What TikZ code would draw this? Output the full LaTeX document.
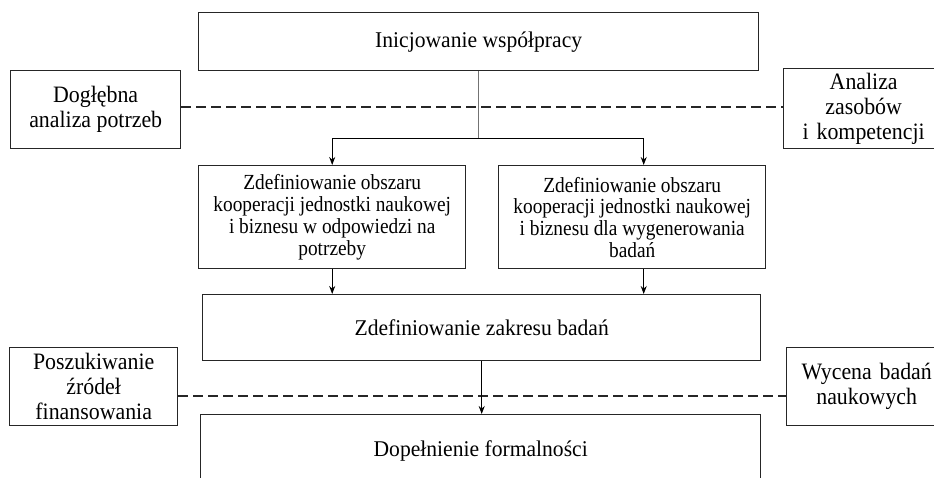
\documentclass[tikz,border=0pt]{standalone}
\usepackage{fontspec}
\setmainfont{Liberation Serif}
\newfontfamily\midfont[FakeStretch=0.9]{Liberation Serif}
\newfontfamily\sidefont[FakeStretch=0.93]{Liberation Serif}
\newfontfamily\bigfont[FakeStretch=0.96]{Liberation Serif}
\usetikzlibrary{arrows.meta}
\tikzset{
  box/.style={draw=black!85, line width=1.4pt, anchor=north west, inner sep=0pt, align=center, fill=white},
  bigtxt/.style={font=\bigfont\fontsize{22.5}{24}\selectfont},
  midtxt/.style={font=\midfont\fontsize{21.5}{21.7}\selectfont},
  sidetxt/.style={font=\sidefont\fontsize{23.5}{25}\selectfont},
  conn/.style={line width=1pt, black},
  arr/.style={conn, -{Stealth[length=8pt,width=6pt]}},
  dashline/.style={line width=1.7pt, black!85, dash pattern=on 10pt off 5pt},
}
\begin{document}
\begin{tikzpicture}[x=1pt,y=-1pt]
\useasboundingbox (0,0) rectangle (934,477);
\clip (0,0) rectangle (934,477);
\fill[white] (0,0) rectangle (934,477);

\node[box, bigtxt, minimum width=560pt, minimum height=58pt] (top) at (198,12) {\raisebox{-3pt}{Inicjowanie współpracy}};
\node[box, sidetxt, minimum width=170pt, minimum height=78pt] (left1) at (10,70) {Dogłębna\\analiza potrzeb};
\node[box, sidetxt, minimum width=160pt, minimum height=80pt, text width=152pt] (right1) at (783,68) {Analiza\\zasobów\\i kompetencji};
\node[box, midtxt, minimum width=267pt, minimum height=103pt] (mid1) at (198,165) {Zdefiniowanie obszaru\\kooperacji jednostki naukowej\\i biznesu w odpowiedzi na\\potrzeby};
\node[box, midtxt, minimum width=267pt, minimum height=103pt] (mid2) at (498,165) {Zdefiniowanie obszaru\\kooperacji jednostki naukowej\\i biznesu dla wygenerowania\\badań};
\node[box, bigtxt, minimum width=558pt, minimum height=66pt] (zak) at (202,294) {Zdefiniowanie zakresu badań};
\node[box, sidetxt, minimum width=168pt, minimum height=78pt] (left2) at (9,347) {Poszukiwanie\\źródeł\\finansowania};
\node[box, sidetxt, minimum width=160pt, minimum height=78pt, text width=152pt] (right2) at (786,347) {Wycena badań\\naukowych};
\node[box, bigtxt, minimum width=560pt, minimum height=72pt] (dop) at (200,414) {Dopełnienie formalności};

\draw[black!55, line width=1pt] (top.south) -- (top.south |- 0,138) coordinate (split);
\draw[dashline] (left1.east |- 0,107) -- (right1.west |- 0,107);
\coordinate (m2) at ([xshift=11.5pt]mid2.north);
\coordinate (m2s) at ([xshift=11.5pt]mid2.south);
\draw[conn] (mid1.north |- split) -- (m2 |- split);
\draw[arr] (mid1.north |- split) -- (mid1.north);
\draw[arr] (m2 |- split) -- (m2);
\draw[arr] (mid1.south) -- (mid1.south |- zak.north);
\draw[arr] (m2s) -- (m2s |- zak.north);
\draw[dashline] (left2.east |- 0,396) -- (right2.west |- 0,396);
\draw[arr] (zak.south) -- (zak.south |- dop.north);
\end{tikzpicture}
\end{document}
